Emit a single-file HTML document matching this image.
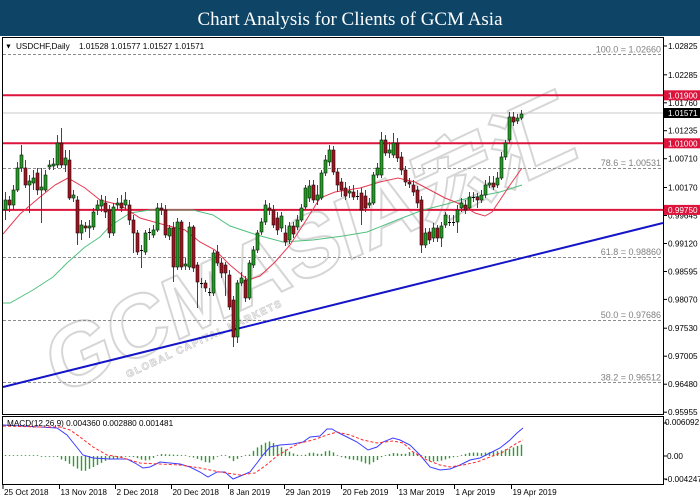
<!DOCTYPE html>
<html><head><meta charset="utf-8"><style>html,body{margin:0;padding:0;background:#fff;width:700px;height:500px;overflow:hidden}svg{display:block}</style></head>
<body>
<svg id="s" width="700" height="500" xmlns="http://www.w3.org/2000/svg" font-family="'Liberation Sans', sans-serif">
<defs>
<clipPath id="cm"><rect x="3" y="38" width="660" height="376"/></clipPath>
<clipPath id="cd"><rect x="3" y="417" width="660" height="67"/></clipPath>
</defs>
<rect width="700" height="500" fill="#fff"/>
<rect width="700" height="36" fill="#0e4567"/>
<text x="350" y="25" text-anchor="middle" font-family="'Liberation Serif', serif" font-size="19" fill="#fff">Chart Analysis for Clients of GCM Asia</text>

<g clip-path="url(#cm)">
<text transform="translate(58,396) rotate(-25) skewX(-8)" font-size="86" font-weight="bold" fill="none" stroke="#d6d6d6" stroke-width="2" textLength="575" lengthAdjust="spacingAndGlyphs" font-family="'Liberation Sans','Noto Sans CJK SC',sans-serif">GCMASIA宏汇</text>
<text transform="translate(128,378) rotate(-25)" font-size="10" font-weight="bold" fill="none" stroke="#cfcfcf" stroke-width="0.8" textLength="170" font-family="'Liberation Sans',sans-serif">GLOBAL CAPITAL MARKETS</text>

<g stroke="#8c8c8c" stroke-width="1" stroke-dasharray="3,2">
<line x1="3" y1="54.5" x2="663" y2="54.5"/>
<line x1="3" y1="168.5" x2="663" y2="168.5"/>
<line x1="3" y1="257.5" x2="663" y2="257.5"/>
<line x1="3" y1="320.5" x2="663" y2="320.5"/>
<line x1="3" y1="382.5" x2="663" y2="382.5"/>
</g>
<line x1="3" y1="113" x2="663" y2="113" stroke="#c8c8c8" stroke-width="1"/>
<g stroke="#dc143c" stroke-width="2">
<line x1="3" y1="95.3" x2="663" y2="95.3"/>
<line x1="3" y1="143.3" x2="663" y2="143.3"/>
<line x1="3" y1="209.9" x2="663" y2="209.9"/>
</g>
<line x1="3" y1="387" x2="663" y2="223" stroke="#1414c8" stroke-width="2"/>

<polyline fill="none" stroke="#52c080" stroke-width="1" points="3,303 10,303 33,290 53,277 67,263 85,247 100,237 110,226 130,213 150,210 170,210 193,210 213,215 230,226 257,235 283,242 313,240 343,236 367,232 397,220 423,210 447,204 460,200 480,196 500,192 522,185"/>
<polyline fill="none" stroke="#e63950" stroke-width="1" points="3,234 20,214 40,197 55,185 68,178 85,188 100,200 120,205 140,218 165,225 185,230 200,242 215,250 230,265 248,280 260,276 275,262 290,245 305,222 320,198 335,192 360,188 380,182 398,178 415,182 430,190 445,198 460,204 475,213 485,216 492,212 500,200 510,185 522,168"/>
<g id="cg"></g>
</g>

<!-- frames -->
<rect x="2.5" y="37.5" width="661" height="377" fill="none" stroke="#000" stroke-width="1"/>
<rect x="2.5" y="416.5" width="661" height="68" fill="none" stroke="#000" stroke-width="1"/>

<!-- header -->
<text x="5" y="48.5" font-size="7" fill="#000">▼</text>
<text x="16" y="49" font-size="8.2" fill="#000">USDCHF,Daily</text>
<text x="79" y="49" font-size="8.2" fill="#000">1.01528 1.01577 1.01527 1.01571</text>

<!-- fib labels -->
<g font-size="9" fill="#808080" text-anchor="end">
<text x="661" y="52.5">100.0 = 1.02660</text>
<text x="661" y="166">78.6 = 1.00531</text>
<text x="661" y="255">61.8 = 0.98860</text>
<text x="661" y="318">50.0 = 0.97686</text>
<text x="661" y="380.5">38.2 = 0.96512</text>
</g>

<!-- right axis -->
<g stroke="#000" stroke-width="1">
<line x1="663" y1="46" x2="667" y2="46"/><line x1="663" y1="74.8" x2="667" y2="74.8"/><line x1="663" y1="102.8" x2="667" y2="102.8"/><line x1="663" y1="130.7" x2="667" y2="130.7"/><line x1="663" y1="158.7" x2="667" y2="158.7"/><line x1="663" y1="187.5" x2="667" y2="187.5"/><line x1="663" y1="215.5" x2="667" y2="215.5"/><line x1="663" y1="243.5" x2="667" y2="243.5"/><line x1="663" y1="271.5" x2="667" y2="271.5"/><line x1="663" y1="299.4" x2="667" y2="299.4"/><line x1="663" y1="328.2" x2="667" y2="328.2"/><line x1="663" y1="356.2" x2="667" y2="356.2"/><line x1="663" y1="384.2" x2="667" y2="384.2"/><line x1="663" y1="412.2" x2="667" y2="412.2"/>
<line x1="663" y1="423" x2="667" y2="423"/><line x1="663" y1="456" x2="667" y2="456"/><line x1="663" y1="479" x2="667" y2="479"/>
</g>
<g font-size="8.2" fill="#000">
<text x="668" y="49">1.02825</text>
<text x="668" y="77.8">1.02285</text>
<text x="668" y="105.8">1.01760</text>
<text x="668" y="133.7">1.01235</text>
<text x="668" y="161.7">1.00710</text>
<text x="668" y="190.5">1.00170</text>
<text x="668" y="218.5">0.99645</text>
<text x="668" y="246.5">0.99120</text>
<text x="668" y="274.5">0.98595</text>
<text x="668" y="302.4">0.98070</text>
<text x="668" y="331.2">0.97530</text>
<text x="668" y="359.2">0.97005</text>
<text x="668" y="387.2">0.96480</text>
<text x="668" y="415.2">0.95955</text>
<text x="665" y="425">0.006092</text>
<text x="667" y="459">0.00</text>
<text x="665" y="482">-0.004247</text>
</g>
<rect x="664" y="90.3" width="36" height="10" fill="#dc143c"/>
<rect x="664" y="138.3" width="36" height="10" fill="#dc143c"/>
<rect x="664" y="204.9" width="36" height="10" fill="#dc143c"/>
<rect x="664" y="108" width="36" height="10" fill="#000"/>
<g font-size="8.2" fill="#fff">
<text x="668" y="98.3">1.01900</text>
<text x="668" y="146.3">1.01000</text>
<text x="668" y="212.9">0.99750</text>
<text x="668" y="116">1.01571</text>
</g>

<!-- MACD -->
<g clip-path="url(#cd)">
<g id="hg"></g>
<polyline id="mm" fill="none" stroke="#3c3cff" stroke-width="1" points=""/>
<polyline id="ms" fill="none" stroke="#ff2a2a" stroke-width="1" stroke-dasharray="3,2" points=""/>
</g>
<text x="7" y="426" font-size="8.2" fill="#000">MACD(12,26,9) 0.004360 0.002880 0.001481</text>

<!-- dates -->
<g stroke="#000" stroke-width="1">
<line x1="3" y1="484" x2="3" y2="489"/><line x1="59.5" y1="484" x2="59.5" y2="489"/><line x1="115.5" y1="484" x2="115.5" y2="489"/><line x1="171.5" y1="484" x2="171.5" y2="489"/><line x1="228.5" y1="484" x2="228.5" y2="489"/><line x1="284.5" y1="484" x2="284.5" y2="489"/><line x1="341.5" y1="484" x2="341.5" y2="489"/><line x1="397.5" y1="484" x2="397.5" y2="489"/><line x1="454.5" y1="484" x2="454.5" y2="489"/><line x1="511.5" y1="484" x2="511.5" y2="489"/>
</g>
<g font-size="8.2" fill="#000">
<text x="4" y="495">25 Oct 2018</text>
<text x="60.5" y="495">13 Nov 2018</text>
<text x="116.5" y="495">2 Dec 2018</text>
<text x="172.5" y="495">20 Dec 2018</text>
<text x="229.5" y="495">8 Jan 2019</text>
<text x="285.5" y="495">29 Jan 2019</text>
<text x="342.5" y="495">20 Feb 2019</text>
<text x="398.5" y="495">13 Mar 2019</text>
<text x="455.5" y="495">1 Apr 2019</text>
<text x="512.5" y="495">19 Apr 2019</text>
</g>
</svg>
<script>
(function(){
var B=[[210,200,192,220],[200,205,196,212],[205,190,185,210],[190,168,162,192],[168,155,145,172],[168,185,160,188],[185,181,175,213],[183,178,170,190],[173,190,168,195],[190,187,168,223],
[190,175,170,192],[167,165,160,170],[166,164,158,170],[165,143,135,168],[143,165,128,168],[165,158,150,172],[160,198,150,200],[198,195,190,202],[200,233,196,245],[233,225,220,240],
[226,228,222,232],[228,226,220,238],[227,212,208,230],[210,205,200,215],[206,200,195,212],[203,212,196,218],[210,233,205,238],[233,207,203,236],[205,203,198,210],[203,208,195,212],
[205,200,192,210],[205,220,200,225],[220,233,215,253],[233,252,230,255],[250,251,245,268],[252,233,230,255],[233,232,228,240],[235,230,225,238],[230,208,203,232],[208,210,203,215],
[210,235,205,238],[236,228,225,240],[228,267,222,282],[267,222,218,270],[222,267,220,270],[266,264,258,270],[267,227,222,270],[227,268,225,272],[265,282,262,308],[283,283,278,288],
[283,288,280,292],[292,293,288,296],[293,253,250,296],[252,263,245,266],[263,273,258,278],[265,273,262,296],[275,307,270,310],[300,337,296,347],[337,283,280,343],[283,278,272,286],
[280,298,276,302],[298,263,260,300],[265,250,246,268],[250,233,230,253],[232,222,218,235],[222,205,200,225],[208,210,203,215],[210,225,205,228],[218,230,212,235],[228,216,212,232],
[233,242,225,246],[240,226,222,244],[226,234,222,238],[227,220,215,230],[220,208,204,222],[207,188,185,210],[198,186,180,202],[185,200,180,203],[200,195,185,205],[198,173,170,200],
[173,160,155,176],[162,150,145,166],[150,172,146,175],[172,185,168,192],[182,190,178,197],[188,196,182,200],[193,191,186,198],[192,197,185,200],[197,196,190,200],[193,210,188,225],
[196,208,190,212],[205,203,198,208],[203,175,172,205],[175,168,163,178],[175,140,132,178],[140,153,135,156],[153,150,142,158],[155,143,133,158],[143,158,138,162],[157,170,152,175],
[170,182,166,186],[182,184,178,188],[185,192,180,196],[190,203,186,208],[200,245,196,253],[245,233,228,248],[232,240,228,244],[238,228,223,242],[228,238,225,242],[238,226,222,247],
[225,215,212,228],[222,223,215,226],[222,222,215,226],[222,210,205,233],[208,203,198,212],[205,210,200,214],[208,197,192,210],[198,197,192,202],[197,200,193,208],[200,195,190,203],
[195,185,180,198],[185,183,176,188],[183,187,176,190],[185,178,172,188],[178,157,152,180],[157,143,140,160],[140,117,112,143],[117,122,112,126],[121,118,114,124],[118,114,110,120]];
var h='';
for(var i=0;i<B.length;i++){var x=5+4*i,o=B[i][0],c=B[i][1],hi=B[i][2],lo=B[i][3];
h+='<line x1="'+(x+.5)+'" y1="'+hi+'" x2="'+(x+.5)+'" y2="'+lo+'" stroke="#444" stroke-width="1"/>';
var t=Math.min(o,c),b=Math.max(o,c);
if(b-t<2){h+='<line x1="'+(x-1)+'" y1="'+(t+.5)+'" x2="'+(x+2)+'" y2="'+(t+.5)+'" stroke="#000" stroke-width="1"/>';}
else{h+='<rect x="'+(x-1)+'" y="'+t+'" width="3" height="'+(b-t)+'" fill="'+(c<o?'#1ea01e':'#a8101f')+'" stroke="#111" stroke-width="0.6"/>';}}
document.getElementById('cg').innerHTML=h;
var M=[[3,425],[40,427],[57,428],[67,435],[75,445],[83,455],[93,458],[110,459],[127,459],[135,463],[143,468],[150,467],[160,462],[170,463],[180,464],[190,467],[200,472],[208,477],[217,472],[225,472],[233,479],[243,475],[250,472],[257,463],[263,455],[270,447],[280,445],[293,444],[303,442],[310,437],[320,436],[327,429],[332,429],[337,432],[347,437],[357,442],[368,450],[377,447],[383,442],[393,438],[400,440],[410,445],[420,455],[430,467],[440,470],[450,469],[460,465],[470,460],[480,458],[490,453],[500,448],[510,440],[517,433],[523,428]];
var S=[[3,426],[40,427],[60,427],[70,430],[80,437],[93,447],[107,455],[120,457],[140,463],[160,464],[180,465],[200,468],[220,472],[240,475],[255,473],[265,466],[277,456],[290,448],[300,443],[313,440],[327,435],[337,432],[350,435],[363,440],[377,443],[393,441],[403,443],[413,452],[427,460],[440,465],[450,467],[463,465],[477,462],[490,457],[503,452],[517,443],[523,440]];
function ip(P,x){if(x<=P[0][0])return P[0][1];for(var k=1;k<P.length;k++){if(x<=P[k][0]){var a=P[k-1],b=P[k];return a[1]+(b[1]-a[1])*(x-a[0])/(b[0]-a[0]);}}return P[P.length-1][1];}
function pts(P){return P.map(function(p){return p[0]+','+p[1];}).join(' ');}
document.getElementById('mm').setAttribute('points',pts(M));
document.getElementById('ms').setAttribute('points',pts(S));
var g='';
for(var i=0;i<130;i++){var x=5+4*i;var v=ip(S,x)-ip(M,x);if(Math.abs(v)<0.8)v=v<0?-0.8:0.8;
g+='<line x1="'+(x+.5)+'" y1="456" x2="'+(x+.5)+'" y2="'+(456-v)+'" stroke="#2f9a2f" stroke-width="1.4"/>';}
document.getElementById('hg').innerHTML=g;
})();
</script>
</body></html>
